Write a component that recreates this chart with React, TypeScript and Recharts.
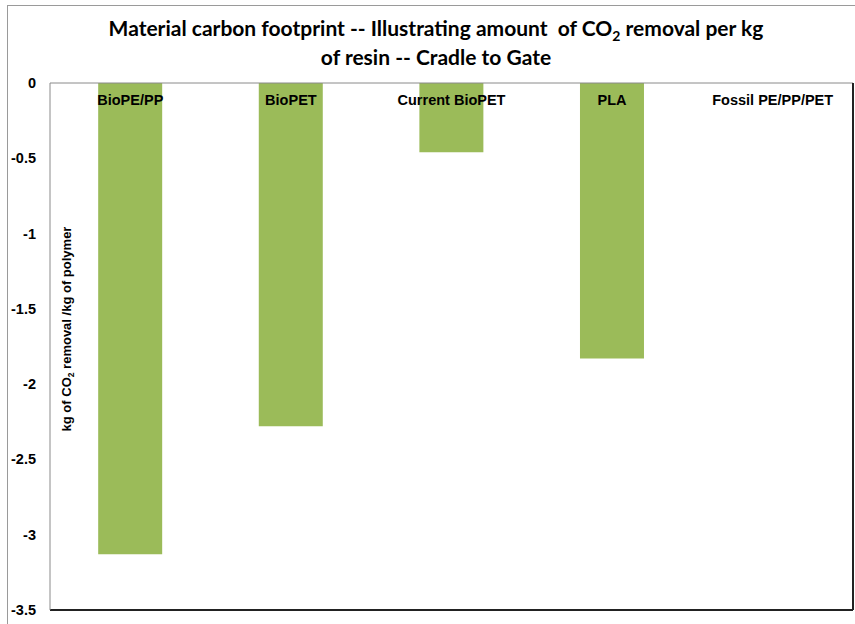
import React from "react";
import { BarChart, Bar, XAxis, YAxis } from "recharts";

const categories = ["BioPE/PP", "BioPET", "Current BioPET", "PLA", "Fossil PE/PP/PET"];
const removalValues = [-3.13, -2.28, -0.46, -1.83, 0];
const yTicks = [0, -0.5, -1, -1.5, -2, -2.5, -3, -3.5];

const data = categories.map((name, i) => ({ name, value: removalValues[i] }));

const CategoryTick = (props: any) => {
  const { x, y, payload } = props;
  return (
    <text
      x={x}
      y={y + 24}
      textAnchor="middle"
      fontFamily="'Liberation Sans', Arial, sans-serif"
      fontWeight="bold"
      fontSize={14.5}
      fill="#000"
    >
      {payload.value}
    </text>
  );
};

const YTick = (props: any) => {
  const { x, y, payload } = props;
  return (
    <text
      x={x}
      y={y + 5}
      textAnchor="end"
      fontFamily="'Liberation Sans', Arial, sans-serif"
      fontWeight="bold"
      fontSize={14.5}
      fill="#000"
    >
      {payload.value}
    </text>
  );
};

export default function App() {
  return (
    <div style={{ position: "relative", width: 855, height: 624, background: "#fff", overflow: "hidden" }}>
      <style>{`body{margin:0}`}</style>
      <div
        style={{
          position: "absolute",
          left: 7,
          top: 5,
          width: 860,
          height: 630,
          borderLeft: "1px solid #9a9a9a",
          borderTop: "1px solid #9a9a9a",
        }}
      />
      <div
        style={{
          position: "absolute",
          left: 0,
          top: 13,
          width: 872,
          textAlign: "center",
          fontFamily: "Lato, 'Open Sans', sans-serif",
          fontWeight: 700,
          fontSize: 21,
          lineHeight: "29px",
          color: "#000",
        }}
      >
        Material carbon footprint -- Illustrating amount&nbsp; of CO
        <sub style={{ fontSize: 14, lineHeight: 0 }}>2</sub> removal per kg
        <br />
        of resin -- Cradle to Gate
      </div>
      <div
        style={{
          position: "absolute",
          left: 66,
          top: 329,
          transform: "translate(-50%, -50%) rotate(-90deg)",
          whiteSpace: "nowrap",
          fontFamily: "'Liberation Sans', Arial, sans-serif",
          fontWeight: "bold",
          fontSize: 13,
          color: "#000",
          zIndex: 2,
        }}
      >
        kg of CO<sub style={{ fontSize: 8.5, lineHeight: 0 }}>2</sub> removal /kg of polymer
      </div>
      <div style={{ position: "absolute", left: 0, top: 0 }}>
        <BarChart
          width={855}
          height={624}
          data={data}
          margin={{ top: 82, right: 1, bottom: 13, left: 0 }}
          barCategoryGap="30%"
        >
          <XAxis xAxisId="bottom" dataKey="name" orientation="bottom" height={1} tick={false} tickLine={false} axisLine={{ stroke: "#222", strokeWidth: 2 }} />
          <XAxis xAxisId="top" dataKey="name" orientation="top" height={1} tickLine={false} tickSize={0} axisLine={{ stroke: "#8a8a8a", strokeWidth: 1 }} tick={<CategoryTick />} interval={0} />
          <YAxis
            yAxisId="left"
            domain={[-3.5, 0]}
            ticks={yTicks}
            width={50}
            tickSize={0}
            tickMargin={14}
            tickLine={false}
            axisLine={{ stroke: "#8a8a8a", strokeWidth: 1 }}
            tick={<YTick />}
            interval={0}
          />
          <YAxis yAxisId="right" orientation="right" domain={[-3.5, 0]} width={1} tick={false} tickLine={false} axisLine={{ stroke: "#222", strokeWidth: 2 }} />
          <Bar xAxisId="bottom" yAxisId="left" dataKey="value" fill="#9BBB59" isAnimationActive={false} />
        </BarChart>
      </div>
    </div>
  );
}
